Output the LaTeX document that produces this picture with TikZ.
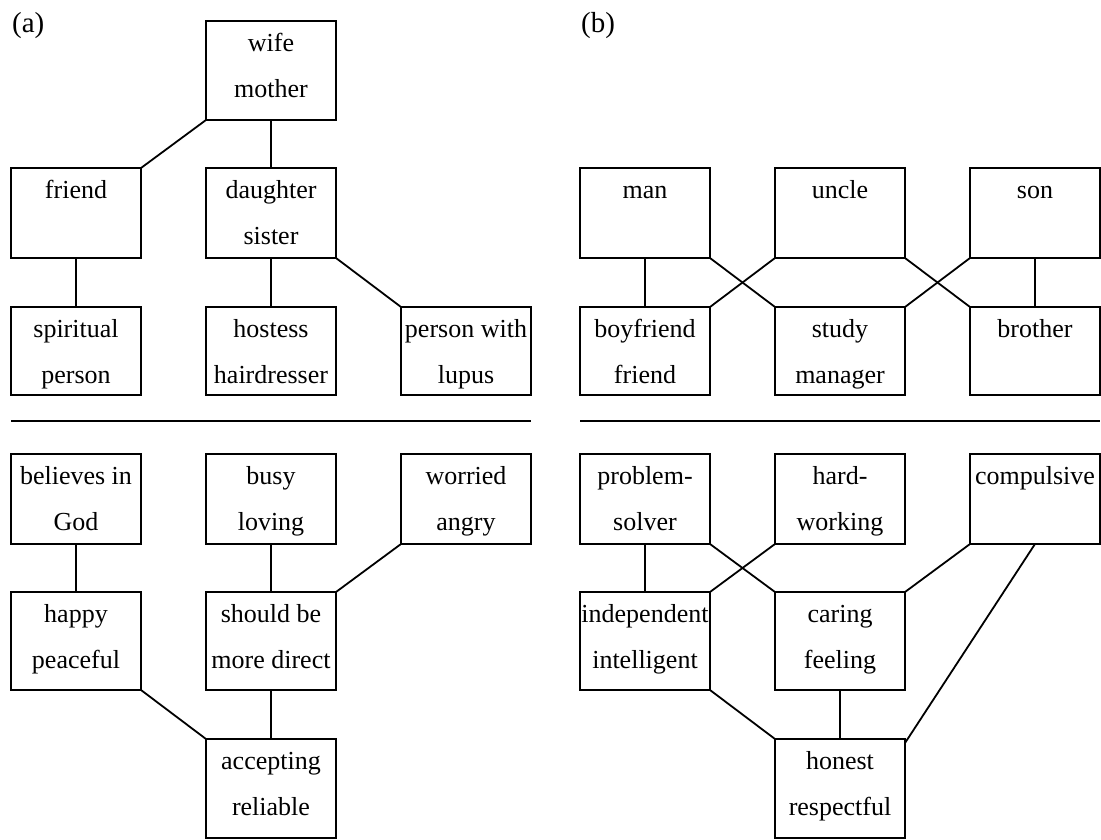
\documentclass[tikz,border=0pt]{standalone}
\usepackage{fontspec}
\setmainfont{Liberation Serif}
\usetikzlibrary{calc}
\tikzset{
  kbox/.style={draw, line width=1.8pt, rectangle, minimum width=130pt, inner sep=0pt, outer sep=0pt},
  ktext/.style={anchor=base, inner sep=0pt, outer sep=0pt, font=\fontsize{26}{46}\selectfont},
  link/.style={line width=1.8pt},
  sepline/.style={line width=1.8pt},
  plabel/.style={anchor=base west, inner sep=0pt, font=\fontsize{29}{34}\selectfont}
}
% #1 name, #2 left x, #3 top y, #4 height, #5 text
\newcommand\kbox[5]{%
  \node[kbox, minimum height=#4pt, anchor=north west] (#1) at (#2,#3) {};
  \node[ktext] (#1-t) at ($(#1.north)+(0,30)$) {\parbox[t]{160pt}{\centering #5}};
}
\begin{document}
\begin{tikzpicture}[x=1pt,y=-1pt]
\useasboundingbox (0,0) rectangle (1101,839);

% panel labels
\node[plabel] (la) at (12,32) {(a)};
\node[plabel] (lb) at (581,32) {(b)};

% ---------- panel (a) ----------
\kbox{wife}{206}{21}{99}{wife\\mother}
\kbox{friend}{11}{168}{90}{friend}
\kbox{daughter}{206}{168}{90}{daughter\\sister}
\kbox{spiritual}{11}{307}{88}{spiritual\\person}
\kbox{hostess}{206}{307}{88}{hostess\\hairdresser}
\kbox{lupus}{401}{307}{88}{person with\\lupus}

\coordinate (sa1) at (11,421);
\coordinate (sa2) at (531,421);
\draw[sepline] (sa1) -- (sa2);

\kbox{believes}{11}{454}{90}{believes in\\God}
\kbox{busy}{206}{454}{90}{busy\\loving}
\kbox{worried}{401}{454}{90}{worried\\angry}
\kbox{happy}{11}{592}{98}{happy\\peaceful}
\kbox{should}{206}{592}{98}{should be\\more direct}
\kbox{accepting}{206}{739}{99}{accepting\\reliable}

\draw[link] (wife.south west) -- (friend.north east);
\draw[link] (wife.south) -- (daughter.north);
\draw[link] (friend.south) -- (spiritual.north);
\draw[link] (daughter.south) -- (hostess.north);
\draw[link] (daughter.south east) -- (lupus.north west);
\draw[link] (believes.south) -- (happy.north);
\draw[link] (busy.south) -- (should.north);
\draw[link] (worried.south west) -- (should.north east);
\draw[link] (happy.south east) -- (accepting.north west);
\draw[link] (should.south) -- (accepting.north);

% ---------- panel (b) ----------
\kbox{man}{580}{168}{90}{man}
\kbox{uncle}{775}{168}{90}{uncle}
\kbox{son}{970}{168}{90}{son}
\kbox{boyfriend}{580}{307}{88}{boyfriend\\friend}
\kbox{study}{775}{307}{88}{study\\manager}
\kbox{brother}{970}{307}{88}{brother}

\coordinate (sb1) at (580,421);
\coordinate (sb2) at (1100,421);
\draw[sepline] (sb1) -- (sb2);

\kbox{problem}{580}{454}{90}{problem-\\solver}
\kbox{hard}{775}{454}{90}{hard-\\working}
\kbox{compulsive}{970}{454}{90}{compulsive}
\kbox{independent}{580}{592}{98}{independent\\intelligent}
\kbox{caring}{775}{592}{98}{caring\\feeling}
\kbox{honest}{775}{739}{99}{honest\\respectful}

\draw[link] (man.south) -- (boyfriend.north);
\draw[link] (man.south east) -- (study.north west);
\draw[link] (uncle.south west) -- (boyfriend.north east);
\draw[link] (uncle.south east) -- (brother.north west);
\draw[link] (son.south west) -- (study.north east);
\draw[link] (son.south) -- (brother.north);

\draw[link] (problem.south) -- (independent.north);
\draw[link] (problem.south east) -- (caring.north west);
\draw[link] (hard.south west) -- (independent.north east);
\draw[link] (compulsive.south west) -- (caring.north east);
\coordinate (hend) at ($(honest.north east)+(0,4)$);
\draw[link] (compulsive.south) -- (hend);
\draw[link] (independent.south east) -- (honest.north west);
\draw[link] (caring.south) -- (honest.north);
\end{tikzpicture}
\end{document}
